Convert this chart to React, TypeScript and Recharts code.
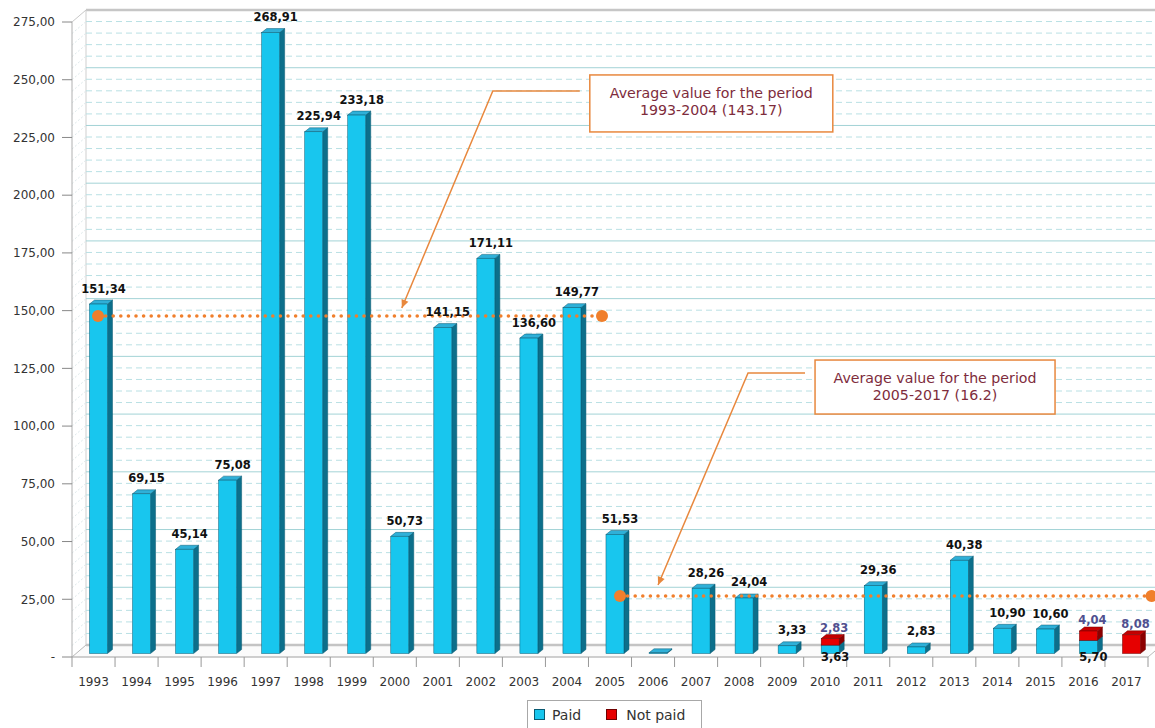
import React from 'react';
import {
  BarChart,
  Bar,
  XAxis,
  YAxis,
  ReferenceLine,
  ReferenceArea,
  ReferenceDot,
  LabelList,
  Legend,
} from 'recharts';

// ---------------- data ----------------
const years = [
  '1993', '1994', '1995', '1996', '1997', '1998', '1999', '2000', '2001', '2002',
  '2003', '2004', '2005', '2006', '2007', '2008', '2009', '2010', '2011', '2012',
  '2013', '2014', '2015', '2016', '2017',
];
const paidValues = [
  151.34, 69.15, 45.14, 75.08, 268.91, 225.94, 233.18, 50.73, 141.15, 171.11,
  136.6, 149.77, 51.53, 0.3, 28.26, 24.04, 3.33, 3.63, 29.36, 2.83,
  40.38, 10.9, 10.6, 5.7, 0,
];
const notPaidValues = [
  0, 0, 0, 0, 0, 0, 0, 0, 0, 0,
  0, 0, 0, 0, 0, 0, 0, 2.83, 0, 0,
  0, 0, 0, 4.04, 8.08,
];
const yTicks = [0, 25, 50, 75, 100, 125, 150, 175, 200, 225, 250, 275];
const majorGridValues = [25, 50, 75, 100, 125, 150, 175, 200, 225, 250];
const minorGridValues = [
  5, 10, 15, 20, 30, 35, 40, 45, 55, 60, 65, 70, 80, 85, 90, 95,
  105, 110, 115, 120, 130, 135, 140, 145, 155, 160, 165, 170, 180, 185, 190, 195,
  205, 210, 215, 220, 230, 235, 240, 245, 255, 260, 265, 270,
];
const seriesNames = { paid: 'Paid', notPaid: 'Not paid' };
const averageLines = [
  { from: '1993', to: '2005', level: 147.7 },
  { from: '2005', to: '2017', level: 26.4 },
];
const callouts = [
  { anchorX: '2000', level: 147.7, lines: ['Average value for the period', '1993-2004 (143.17)'] },
  { anchorX: '2006', level: 26.4, lines: ['Average value for the period', '2005-2017 (16.2)'] },
];

const data = years.map((year, i) => ({ year, paid: paidValues[i], notPaid: notPaidValues[i] }));

// ---------------- styling ----------------
const W = 1155;
const H = 728;
const MARGIN = { top: 22, right: 7, bottom: 0, left: 0 };
const Y_AXIS_W = 72;
const BAND = (W - MARGIN.left - MARGIN.right - Y_AXIS_W) / years.length;
const WALL_DX = 14;
const WALL_DY = -12;
const RIGHT_EXT = 7;
const BAR_SHIFT_X = 4.5;
const BAR_SHIFT_Y = -3.5;
const DEPTH_X = 5;
const DEPTH_Y = 4;
const FONT = '"DejaVu Sans", Verdana, sans-serif';
const LABEL_SIZE = 11.5;

const CYAN = { front: '#18c6ee', side: '#0c6f8b', top: '#2fb0d8', edge: '#0a5a72' };
const RED = { front: '#e60000', side: '#8c0000', top: '#c40000', edge: '#700000' };
const AVG = '#f07f2c';
const CALLOUT_LINE = '#e8883e';

const fmt = (v: number) => v.toFixed(2).replace('.', ',');

const makeBarShape = (c: typeof CYAN) => (p: any) => {
  const { x, y, width, height } = p;
  if (!height || height <= 0) return <g />;
  const x0 = x + BAR_SHIFT_X;
  const x1 = x0 + width;
  const yt = y + BAR_SHIFT_Y;
  const yb = yt + height;
  return (
    <g>
      <path
        d={`M${x1},${yt} L${x1 + DEPTH_X},${yt - DEPTH_Y} L${x1 + DEPTH_X},${yb - DEPTH_Y} L${x1},${yb} Z`}
        fill={c.side}
        stroke={c.edge}
        strokeWidth={0.5}
      />
      <path
        d={`M${x0},${yt} L${x0 + DEPTH_X},${yt - DEPTH_Y} L${x1 + DEPTH_X},${yt - DEPTH_Y} L${x1},${yt} Z`}
        fill={c.top}
        stroke={c.edge}
        strokeWidth={0.5}
      />
      <rect x={x0} y={yt} width={width} height={height} fill={c.front} stroke={c.edge} strokeWidth={0.5} />
    </g>
  );
};

const getBox = (p: any) => {
  const vb = p.viewBox || {};
  return {
    x: p.x ?? vb.x,
    y: p.y ?? vb.y,
    width: p.width ?? vb.width,
    height: p.height ?? vb.height,
  };
};

const paidLabel = (p: any) => {
  const { x, y, width, height } = getBox(p);
  const value = Number(p.value);
  const idx = p.index;
  if (!(value >= 1)) return null;
  const cx = x + BAR_SHIFT_X + width / 2 + 5;
  const below = notPaidValues[idx] > 0;
  return (
    <text
      x={cx}
      y={below ? y + height + 4 : y - 15}
      textAnchor="middle"
      fontSize={LABEL_SIZE}
      fontWeight="bold"
      fill="#111"
      fontFamily={FONT}
    >
      {fmt(value)}
    </text>
  );
};

const notPaidLabel = (p: any) => {
  const { x, y, width } = getBox(p);
  const value = Number(p.value);
  if (!(value > 0)) return null;
  return (
    <text
      x={x + BAR_SHIFT_X + width / 2 + 4}
      y={y - 10.5}
      textAnchor="middle"
      fontSize={LABEL_SIZE}
      fontWeight="bold"
      fill="#50508f"
      fontFamily={FONT}
    >
      {fmt(value)}
    </text>
  );
};

const gridShape = (major: boolean) => (p: any) => {
  const { x1, x2, y1 } = p;
  const yb = y1 + WALL_DY;
  return (
    <g>
      <line
        x1={x1 + WALL_DX}
        y1={yb}
        x2={x2 + RIGHT_EXT}
        y2={yb}
        stroke={major ? '#a3d3d6' : '#b9e0e4'}
        strokeWidth={1}
        strokeDasharray={major ? undefined : '6 4'}
      />
      <line x1={x1} y1={y1} x2={x1 + WALL_DX} y2={yb} stroke="#dde8ea" strokeWidth={1} strokeDasharray="2 2" />
    </g>
  );
};

const wallShape = (p: any) => {
  const { x, y, width, height } = p;
  const bx = x + WALL_DX;
  const by = y + WALL_DY;
  const right = x + width + RIGHT_EXT;
  const bottom = y + height;
  return (
    <g>
      <rect x={bx} y={by} width={right - bx} height={height} fill="#ffffff" />
      <polygon
        points={`${x},${bottom} ${bx},${bottom + WALL_DY} ${right},${bottom + WALL_DY} ${x + width},${bottom}`}
        fill="#fbfbfb"
      />
      <line x1={bx} y1={by} x2={right} y2={by} stroke="#c6c6c6" strokeWidth={2.5} />
      <line x1={bx} y1={by} x2={bx} y2={bottom + WALL_DY} stroke="#cfcfcf" strokeWidth={1} />
      <line x1={x} y1={y} x2={bx} y2={by} stroke="#c8c8c8" strokeWidth={1} />
      <line x1={bx} y1={bottom + WALL_DY} x2={right} y2={bottom + WALL_DY} stroke="#c4c4c4" strokeWidth={2.5} />
      <line x1={x} y1={bottom} x2={bx} y2={bottom + WALL_DY} stroke="#b8b8b8" strokeWidth={1} />
      <line x1={x + width} y1={bottom} x2={right} y2={bottom - 6} stroke="#b8b8b8" strokeWidth={1} />
    </g>
  );
};

const avgShape = (ox1: number, ox2: number) => (p: any) => {
  const a = p.x1 + ox1;
  const b = p.x2 + ox2;
  const y = p.y1;
  return (
    <g>
      <line x1={a} y1={y} x2={b} y2={y} stroke={AVG} strokeWidth={3.6} strokeDasharray="0 7.6" strokeLinecap="round" />
      <circle cx={a} cy={y} r={6} fill={AVG} />
      <circle cx={b} cy={y} r={6} fill={AVG} />
    </g>
  );
};

type CalloutGeom = { tip: number[]; knee: number[]; end: number[]; box: number[] };
const calloutGeoms: CalloutGeom[] = [
  { tip: [7, -8], knee: [98, -225], end: [185, -225], box: [195, -241, 243, 57] },
  { tip: [5, -11], knee: [95, -223], end: [152, -223], box: [162, -236, 240, 54] },
];

const calloutShape = (g: CalloutGeom, lines: string[]) => (p: any) => {
  const { cx, cy } = p;
  const tx = cx + g.tip[0];
  const ty = cy + g.tip[1];
  const kx = cx + g.knee[0];
  const ky = cy + g.knee[1];
  const ex = cx + g.end[0];
  const ey = cy + g.end[1];
  const bx = cx + g.box[0];
  const by = cy + g.box[1];
  const ang = Math.atan2(ty - ky, tx - kx);
  const L = 9;
  const s = 0.42;
  const ax1 = tx - L * Math.cos(ang - s);
  const ay1 = ty - L * Math.sin(ang - s);
  const ax2 = tx - L * Math.cos(ang + s);
  const ay2 = ty - L * Math.sin(ang + s);
  return (
    <g>
      <polyline points={`${tx},${ty} ${kx},${ky} ${ex},${ey}`} fill="none" stroke={CALLOUT_LINE} strokeWidth={1.5} />
      <polygon points={`${tx},${ty} ${ax1},${ay1} ${ax2},${ay2}`} fill={CALLOUT_LINE} />
      <rect x={bx} y={by} width={g.box[2]} height={g.box[3]} fill="#ffffff" stroke={CALLOUT_LINE} strokeWidth={1.5} />
      {lines.map((t, i) => (
        <text
          key={i}
          x={bx + g.box[2] / 2}
          y={by + 23 + i * 17}
          textAnchor="middle"
          fontSize={14.2}
          fill="#7e2c3c"
          fontFamily={FONT}
        >
          {t}
        </text>
      ))}
    </g>
  );
};

const XTick = (p: any) => {
  const { x, y, payload, index } = p;
  const half = BAND / 2;
  return (
    <g>
      <line x1={x - half} y1={y} x2={x - half} y2={y + 10} stroke="#999" strokeWidth={1} />
      {index === years.length - 1 && (
        <line x1={x + half} y1={y} x2={x + half} y2={y + 10} stroke="#999" strokeWidth={1} />
      )}
      <text x={x} y={y + 29} textAnchor="middle" fontSize={12} fill="#333" fontFamily={FONT}>
        {payload.value}
      </text>
    </g>
  );
};

const renderLegend = () => (
  <div style={{ position: 'relative', height: 28, width: '100%' }}>
    <div
      style={{
        position: 'absolute',
        left: 527,
        top: 0,
        width: 175,
        height: 28,
        boxSizing: 'border-box',
        border: '1px solid #a8a8a8',
        borderBottom: 'none',
        display: 'flex',
        alignItems: 'center',
        fontFamily: FONT,
        fontSize: 14,
        color: '#333',
        background: '#fff',
      }}
    >
      <span
        style={{
          display: 'inline-block',
          width: 11,
          height: 11,
          marginLeft: 6,
          background: CYAN.front,
          border: `1px solid ${CYAN.edge}`,
          boxSizing: 'border-box',
        }}
      />
      <span style={{ marginLeft: 7 }}>{seriesNames.paid}</span>
      <span
        style={{
          display: 'inline-block',
          width: 11,
          height: 11,
          marginLeft: 25,
          background: RED.front,
          border: `1px solid ${RED.edge}`,
          boxSizing: 'border-box',
        }}
      />
      <span style={{ marginLeft: 9 }}>{seriesNames.notPaid}</span>
    </div>
  </div>
);

export default function App() {
  return (
    <div
      style={{
        position: 'absolute',
        left: 0,
        top: 0,
        width: W,
        height: H,
        overflow: 'hidden',
        background: '#fff',
        fontFamily: FONT,
      }}
    >
      <BarChart width={W} height={H} data={data} margin={MARGIN} barSize={18}>
        <ReferenceArea y1={0} y2={275} shape={wallShape} zIndex={-200} ifOverflow="visible" />
        {minorGridValues.map((v) => (
          <ReferenceLine key={`mi${v}`} y={v} shape={gridShape(false)} zIndex={-150} />
        ))}
        {majorGridValues.map((v) => (
          <ReferenceLine key={`ma${v}`} y={v} shape={gridShape(true)} zIndex={-140} />
        ))}
        <XAxis
          dataKey="year"
          height={43}
          interval={0}
          tickLine={false}
          tickSize={0}
          tickMargin={0}
          axisLine={{ stroke: '#a0a0a0' }}
          tick={<XTick />}
        />
        <YAxis
          width={Y_AXIS_W}
          domain={[0, 275]}
          ticks={yTicks}
          interval={0}
          tickSize={10}
          tickMargin={7}
          tickFormatter={(v: number) => (v === 0 ? '-' : fmt(v))}
          tick={{ fontSize: 12, fill: '#333', fontFamily: FONT }}
          tickLine={{ stroke: '#888' }}
          axisLine={{ stroke: '#b0b0b0' }}
        />
        <Bar dataKey="paid" name={seriesNames.paid} stackId="a" fill={CYAN.front} shape={makeBarShape(CYAN)} isAnimationActive={false}>
          <LabelList dataKey="paid" content={paidLabel} />
        </Bar>
        <Bar dataKey="notPaid" name={seriesNames.notPaid} stackId="a" fill={RED.front} shape={makeBarShape(RED)} isAnimationActive={false}>
          <LabelList dataKey="notPaid" content={notPaidLabel} />
        </Bar>
        {averageLines.map((a, i) => (
          <ReferenceLine
            key={`avg${i}`}
            segment={[
              { x: a.from, y: a.level },
              { x: a.to, y: a.level },
            ]}
            shape={i === 0 ? avgShape(4.5, -8) : avgShape(10, 25)}
            ifOverflow="visible"
          />
        ))}
        {callouts.map((c, i) => (
          <ReferenceDot
            key={`co${i}`}
            x={c.anchorX}
            y={c.level}
            r={0}
            shape={calloutShape(calloutGeoms[i], c.lines)}
            ifOverflow="visible"
          />
        ))}
        <Legend verticalAlign="bottom" content={renderLegend} />
      </BarChart>
    </div>
  );
}
